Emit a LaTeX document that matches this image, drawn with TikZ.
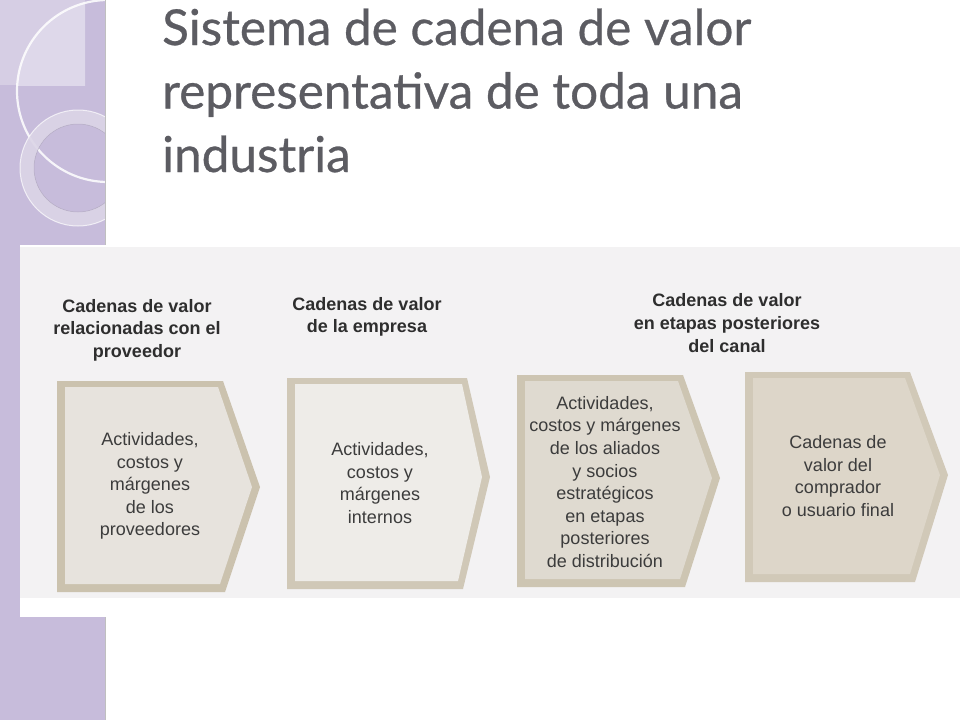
\documentclass[tikz,border=0pt]{standalone}
\usepackage{fontspec}
\setmainfont{Liberation Sans}
\newfontfamily\titlefont[FakeBold=0.6]{Lato}
\definecolor{strip}{HTML}{C7BCDB}
\definecolor{stripl}{HTML}{D6CEE4}
\definecolor{stripll}{HTML}{DED8EA}
\definecolor{ringc}{HTML}{DCD5E7}
\definecolor{scanbg}{HTML}{F3F2F3}
\definecolor{titlec}{HTML}{5C5C62}
\definecolor{headc}{HTML}{2E2E2E}
\definecolor{bodyc}{HTML}{3C3C3C}
\definecolor{bordA}{HTML}{CBC2AE}
\definecolor{innA}{HTML}{E7E3DD}
\definecolor{bordB}{HTML}{D0C8B7}
\definecolor{innB}{HTML}{EEECE8}
\definecolor{bordC}{HTML}{CDC5B2}
\definecolor{innC}{HTML}{DFDAD0}
\definecolor{bordD}{HTML}{D1C9B8}
\definecolor{innD}{HTML}{DDD6C9}
% #1 L, #2 T, #3 top shoulder, #4 tip x, #5 tip y, #6 bottom shoulder, #7 B, #8 border, #9 inner
\newcommand\drawchev[9]{%
  \fill[#8] (#1,#2) -- (#3,#2) -- (#4,#5) -- (#6,#7) -- (#1,#7) -- cycle;
  \fill[#9] ({#1+8},{#2+6}) -- ({#3-5},{#2+6}) -- ({#4-8},#5) -- ({#6-5},{#7-8}) -- ({#1+8},{#7-8}) -- cycle;
}
\begin{document}
\begin{tikzpicture}[x=1pt,y=-1pt,
  titletext/.style={anchor=base west,inner sep=0pt,text=titlec,font=\titlefont\fontsize{49.5}{58}\selectfont},
  headtext/.style={align=center,inner sep=0pt,text=headc,font=\bfseries\fontsize{18}{22.6}\selectfont},
  bodytext/.style={align=center,inner sep=0pt,text=bodyc,font=\fontsize{18}{22.6}\selectfont}]
\useasboundingbox (0,0) rectangle (960,720);
\fill[white] (0,0) rectangle (960,720);
% left strip
\fill[strip] (0,0) rectangle (105,720);
\begin{scope}
  \clip (0,0) rectangle (105,720);
  \fill[stripl] (0,0) rectangle (85,85);
  \begin{scope}
    \clip (0,0) rectangle (85,85);
    \fill[stripll] (108,91) circle[radius=91pt];
  \end{scope}
  \draw[white,line width=2.2pt,opacity=0.85] (108,91) circle[radius=91pt];
  \fill[ringc,even odd rule,opacity=0.9] (78,168) circle[radius=58pt] (78,168) circle[radius=44pt];
  \draw[strip!70!black,line width=0.5pt,opacity=0.4] (78,168) circle[radius=44pt];
  \draw[white,line width=1pt,opacity=0.7] (78,168) circle[radius=58pt];
\end{scope}
\draw[gray!50,line width=0.8pt] (105.5,0) -- (105.5,720);
% scan area
\fill[white] (20,245) rectangle (106,617);
\fill[scanbg] (20,247) rectangle (960,598);
% chevrons
\drawchev{57}{381}{223}{260}{487}{225}{592}{bordA}{innA}
\drawchev{287}{378}{467}{490}{477}{463}{589}{bordB}{innB}
\drawchev{517}{375}{683}{720}{478}{685}{587}{bordC}{innC}
\drawchev{745}{372}{910}{948}{475}{915}{582}{bordD}{innD}
% title
\node[titletext] (t1) at (162,45) {Sistema de cadena de valor};
\node[titletext] (t2) at (162,108.5) {representativa de toda una};
\node[titletext] (t3) at (162,172) {industria};
% headers
\node[headtext] (h1) at (137,330) {Cadenas de valor\\relacionadas con el\\proveedor};
\node[headtext] (h2) at (367,317) {Cadenas de valor\\de la empresa};
\node[headtext] (h3) at (727,323) {Cadenas de valor\\en etapas posteriores\\del canal};
% bodies
\node[bodytext] (b1) at (150,486) {Actividades,\\costos y\\márgenes\\de los\\proveedores};
\node[bodytext] (b2) at (380,483) {Actividades,\\costos y\\márgenes\\internos};
\node[bodytext] (b3) at (605,482) {Actividades,\\costos y márgenes\\de los aliados\\y socios\\estratégicos\\en etapas\\posteriores\\de distribución};
\node[bodytext] (b4) at (838,476) {Cadenas de\\valor del\\comprador\\o usuario final};
\end{tikzpicture}
\end{document}
